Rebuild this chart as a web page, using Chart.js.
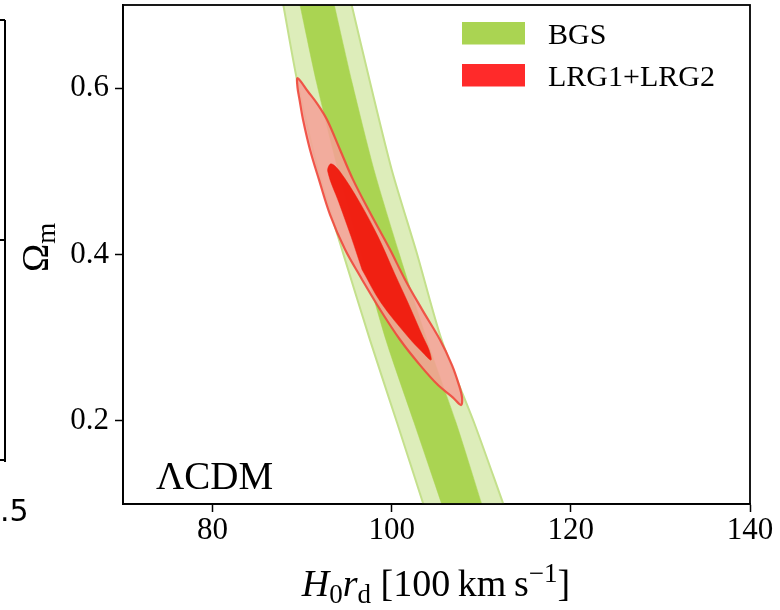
<!DOCTYPE html>
<html>
<head>
<meta charset="utf-8">
<script src="https://cdn.jsdelivr.net/npm/chart.js@4.4.0/dist/chart.umd.min.js"></script>
<style>
  html, body { margin: 0; padding: 0; background: #fff; }
  canvas { display: block; }
</style>
</head>
<body>
<canvas id="chart" width="780" height="610"></canvas>
<script>
const serif = '"Liberation Serif", "Times New Roman", serif';

const xTicks = [80, 100, 120, 140];
const yTicks = [0.2, 0.4, 0.6];

// BGS band, edges read at these Omega_m levels (first/last run past the frame)
const bgsOmegaM  = [0.72, 0.70, 0.607, 0.502, 0.402, 0.297, 0.198, 0.10, 0.08];
const bgs95Left  = [87.56, 87.90, 89.48, 91.77, 94.56, 97.58, 100.59, 103.53, 104.13];
const bgs95Right = [95.09, 95.53, 97.58, 100.00, 102.79, 105.58, 109.19, 112.46, 113.13];
const bgs68Left  = [89.36, 89.76, 91.60, 94.00, 96.57, 99.36, 102.49, 105.58, 106.21];
const bgs68Right = [93.16, 93.59, 95.57, 98.02, 100.81, 103.94, 107.18, 110.05, 110.64];

// LRG1+LRG2 contours, traced round the outline
const lrg95H0rd = [96.68, 94.79, 93.11, 91.88, 90.88, 90.10, 89.71, 89.48, 89.50, 90.65, 91.77, 92.78, 94.23, 95.68,
                   97.69, 99.81, 101.48, 103.38, 105.39, 106.73, 107.51, 107.85, 107.74, 106.84, 105.17, 103.16, 100.93, 98.69];
const lrg95Om   = [0.370, 0.406, 0.448, 0.490, 0.526, 0.562, 0.586, 0.601, 0.612, 0.596, 0.580, 0.562, 0.526, 0.490,
                   0.448, 0.406, 0.370, 0.334, 0.2975, 0.267, 0.243, 0.228, 0.219, 0.228, 0.243, 0.267, 0.2975, 0.334];
const lrg68H0rd = [96.68, 95.46, 94.12, 92.85, 93.22, 94.20, 96.46, 98.47, 100.37, 101.82, 103.49, 104.16, 104.39, 103.38, 101.82, 98.80];
const lrg68Om   = [0.382, 0.4215, 0.462, 0.500, 0.509, 0.500, 0.462, 0.4215, 0.376, 0.342, 0.301, 0.2855, 0.273, 0.283, 0.301, 0.342];

const legendLabels = ['BGS', 'LRG1+LRG2'];
const legendColors = ['rgb(170,212,82)', 'rgb(255,42,42)'];

function band(left, right, levels) {
  const pts = left.map((x, i) => ({ x: x, y: levels[i] }));
  for (let i = right.length - 1; i >= 0; i--) pts.push({ x: right[i], y: levels[i] });
  pts.push(pts[0]);
  return pts;
}

function loop(xs, ys) {
  const pts = xs.map((x, i) => ({ x: x, y: ys[i] }));
  pts.push(pts[0]);
  return pts;
}

function drawRuns(ctx, runs, x, y) {
  runs.forEach(([text, font, dy]) => {
    ctx.font = font;
    ctx.fillText(text, x, y + dy);
    x += ctx.measureText(text).width;
  });
}

function runsWidth(ctx, runs) {
  let w = 0;
  runs.forEach(([text, font]) => { ctx.font = font; w += ctx.measureText(text).width; });
  return w;
}

const framePlugin = {
  id: 'frame',
  afterDatasetsDraw(chart) {
    const ctx = chart.ctx, a = chart.chartArea;
    ctx.save();
    ctx.strokeStyle = '#000';
    ctx.lineWidth = 1.8;
    ctx.strokeRect(a.left, a.top, a.right - a.left, a.bottom - a.top);
    ctx.restore();
  },
  afterDraw(chart) {
    const ctx = chart.ctx;
    ctx.save();
    ctx.fillStyle = '#000';
    ctx.textAlign = 'left';
    ctx.textBaseline = 'alphabetic';

    // legend
    legendLabels.forEach((lab, i) => {
      const y = i === 0 ? 22 : 64;
      ctx.fillStyle = legendColors[i];
      ctx.fillRect(462, y, 63, 22.5);
      ctx.fillStyle = '#000';
      ctx.font = '30px ' + serif;
      ctx.fillText(lab, 548, y + 22);
    });

    // model tag
    ctx.font = '39px ' + serif;
    ctx.fillText('\u039BCDM', 156, 489);

    // x title
    const big = '38px ' + serif, ital = 'italic 38px ' + serif, small = '27px ' + serif;
    const xRuns = [['H', ital, 0], ['0', small, 7], ['r', ital, 0], ['d', small, 7],
                   [' [100', big, 0], ['\u2009km', big, 0], ['\u2009s', big, 0], ['\u22121', small, -14], [']', big, 0]];
    drawRuns(ctx, xRuns, 436 - runsWidth(ctx, xRuns) / 2, 596);

    // y title
    ctx.translate(48, 272);
    ctx.rotate(-Math.PI / 2);
    drawRuns(ctx, [['\u03A9', big, 0], ['m', small, 7]], 0, 0);
    ctx.restore();

    // edge of the neighbouring panel
    ctx.save();
    ctx.strokeStyle = '#000';
    ctx.lineWidth = 2;
    ctx.beginPath();
    ctx.moveTo(5, 20); ctx.lineTo(5, 462);
    [20, 240, 460].forEach(t => { ctx.moveTo(0, t); ctx.lineTo(5, t); });
    ctx.stroke();
    ctx.fillStyle = '#000';
    ctx.font = '30px "DejaVu Sans", sans-serif';
    ctx.fillText('.5', 0, 521);
    ctx.restore();
  }
};

new Chart(document.getElementById('chart'), {
  type: 'scatter',
  data: {
    datasets: [
      {
        label: 'BGS 95%',
        data: band(bgs95Left, bgs95Right, bgsOmegaM),
        showLine: true, fill: 'shape', tension: 0.25, pointRadius: 0,
        backgroundColor: 'rgb(221,237,186)', borderColor: 'rgb(196,224,140)', borderWidth: 2,
        order: 4
      },
      {
        label: 'BGS 68%',
        data: band(bgs68Left, bgs68Right, bgsOmegaM),
        showLine: true, fill: 'shape', tension: 0.25, pointRadius: 0,
        backgroundColor: 'rgb(170,212,82)', borderColor: 'rgb(170,212,82)', borderWidth: 0.5,
        order: 3
      },
      {
        label: 'LRG1+LRG2 95%',
        data: loop(lrg95H0rd, lrg95Om),
        showLine: true, fill: 'shape', tension: 0.35, pointRadius: 0,
        backgroundColor: 'rgba(246,160,152,0.85)', borderColor: 'rgba(240,72,60,0.9)', borderWidth: 2.2,
        order: 2
      },
      {
        label: 'LRG1+LRG2 68%',
        data: loop(lrg68H0rd, lrg68Om),
        showLine: true, fill: 'shape', tension: 0.35, pointRadius: 0,
        backgroundColor: 'rgba(240,28,14,0.97)', borderColor: 'rgba(240,28,14,0.97)', borderWidth: 0.5,
        order: 1
      }
    ]
  },
  options: {
    responsive: false,
    animation: false,
    layout: { padding: { top: 5, right: 30, left: 0, bottom: 0 } },
    plugins: { legend: { display: false }, tooltip: { enabled: false } },
    scales: {
      x: {
        type: 'linear', min: 70, max: 140,
        afterBuildTicks: (axis) => { axis.ticks = xTicks.map(v => ({ value: v })); },
        afterFit: (axis) => { axis.height = 106; axis.paddingLeft = 0; },
        grid: { drawOnChartArea: false, drawTicks: true, tickLength: 8, tickWidth: 1.5, tickColor: '#000' },
        border: { display: true, color: '#000', width: 1.8 },
        ticks: { color: '#000', font: { family: serif, size: 31 }, padding: 0, maxRotation: 0,
                 callback: (v) => String(v) }
      },
      y: {
        type: 'linear', min: 0.1, max: 0.7,
        afterBuildTicks: (axis) => { axis.ticks = yTicks.map(v => ({ value: v })); },
        afterFit: (axis) => { axis.width = 123; axis.paddingTop = 0; axis.paddingBottom = 0; },
        grid: { drawOnChartArea: false, drawTicks: true, tickLength: 8, tickWidth: 1.5, tickColor: '#000' },
        border: { display: true, color: '#000', width: 1.8 },
        ticks: { color: '#000', font: { family: serif, size: 31 }, padding: 6,
                 callback: (v) => v.toFixed(1) }
      }
    }
  },
  plugins: [framePlugin]
});
</script>
</body>
</html>
